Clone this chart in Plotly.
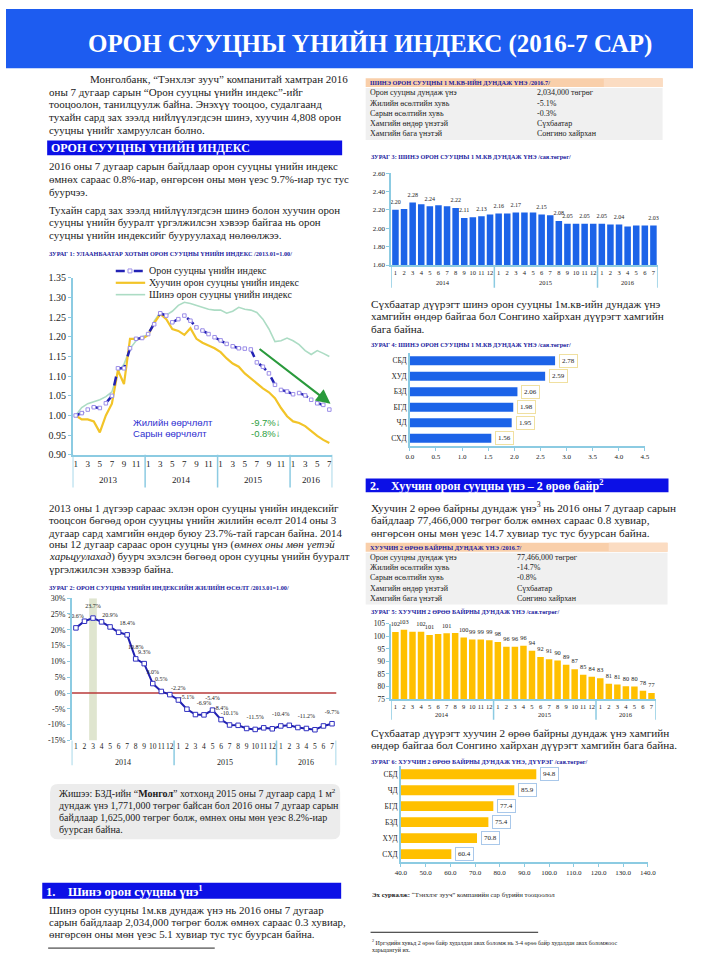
import plotly.graph_objects as go

W, H = 701, 961
def X(px): return px / W
def Y(py): return 1 - py / H

SERIF = "Liberation Serif"
SANS = "Liberation Sans"
TXT = "#1b1b1b"
NAVY = "#1a1a9e"
HBLUE = "#0c10e6"
AXC = "#8ccbe2"
BARBLUE = "#1c63e8"
BARYEL = "#ffc000"
LS = 10.9   # left column body size
RS = 11.2   # right column body size

# ---------------- DATA ----------------
years_all = [2013, 2014, 2015, 2016]
c1_periods = [f"{y}-{m:02d}" for y in years_all for m in range(1, 13)][:43]
c1_total = [1.000, 1.006, 1.015, 1.021, 1.019, 1.031, 1.050, 1.120, 1.120, 1.171, 1.195, 1.197,
            1.207, 1.232, 1.260, 1.254, 1.237, 1.245, 1.254, 1.241, 1.224, 1.216, 1.207, 1.199,
            1.191, 1.182, 1.176, 1.171, 1.170, 1.168, 1.135, 1.124, 1.107, 1.078, 1.065, 1.061,
            1.054, 1.057, 1.051, 1.040, 1.031, 1.027, 1.015]
c1_old = [1.000, 0.990, 0.990, 0.985, 0.957, 1.000, 1.030, 1.115, 1.080, 1.195, 1.195, 1.195,
          1.205, 1.235, 1.258, 1.245, 1.220, 1.215, 1.205, 1.222, 1.195, 1.185, 1.178, 1.171,
          1.161, 1.145, 1.132, 1.124, 1.107, 1.094, 1.082, 1.069, 1.059, 1.044, 1.019, 0.998,
          0.985, 0.981, 0.973, 0.960, 0.948, 0.938, 0.930]
c1_new = [1.000, 1.020, 1.030, 1.035, 1.040, 1.048, 1.060, 1.110, 1.130, 1.170, 1.190, 1.200,
          1.205, 1.240, 1.262, 1.255, 1.265, 1.280, 1.288, 1.285, 1.280, 1.275, 1.270, 1.268,
          1.268, 1.260, 1.265, 1.275, 1.270, 1.268, 1.262, 1.245, 1.220, 1.188, 1.190, 1.197,
          1.190, 1.180, 1.165, 1.155, 1.165, 1.158, 1.150]
c1_names = ["Орон сууцны үнийн индекс", "Хуучин орон сууцны үнийн индекс", "Шинэ орон сууцны үнийн индекс"]

c2_periods = c1_periods[12:]
c2_growth = [20.6, 22.7, 23.7, 22.5, 20.9, 19.2, 18.4, 10.8, 9.3, 3.0, 0.5, -0.5,
             -2.2, -5.1, -6.8, -6.9, -5.4, -8.4, -10.1, -10.2, -11.2, -11.5, -11.0, -11.3,
             -10.4, -10.2, -10.9, -11.2, -11.6, -10.4, -9.7]
c2_labels = ["20.6%", "", "23.7%", "", "20.9%", "", "18.4%", "10.8%", "9.3%", "3.0%", "0.5%", "",
             "-2.2%", "-5.1%", "", "-6.9%", "-5.4%", "-8.4%", "-10.1%", "", "", "-11.5%", "", "",
             "-10.4%", "", "", "-11.2%", "", "", "-9.7%"]

c3_periods = c1_periods[12:]
c3_new_price = [2.20, 2.21, 2.28, 2.26, 2.24, 2.25, 2.24, 2.22, 2.11, 2.12, 2.13, 2.15,
                2.16, 2.16, 2.17, 2.17, 2.17, 2.15, 2.14, 2.08, 2.05, 2.05, 2.05, 2.05,
                2.05, 2.04, 2.04, 2.02, 2.03, 2.03, 2.03]
c3_labels = ["2.20", "", "2.28", "", "2.24", "", "", "2.22", "2.11", "", "2.13", "",
             "2.16", "", "2.17", "", "", "2.15", "", "2.08", "2.05", "", "2.05", "",
             "2.05", "", "2.04", "", "", "", "2.03"]

c4_districts = ["СБД", "ХУД", "БЗД", "БГД", "ЧД", "СХД"]
c4_values = [2.78, 2.59, 2.06, 1.98, 1.95, 1.56]

c5_periods = c1_periods[12:]
c5_old_price = [101.7, 102.6, 101.8, 101.8, 100.5, 100.9, 101.2, 101.3, 99.5, 98.8, 98.8, 98.5,
                97.8, 95.9, 95.9, 96.3, 94.3, 91.8, 90.9, 90.4, 88.7, 86.9, 84.7, 83.9,
                83.3, 81.1, 80.8, 80.1, 80.0, 78.3, 77.4]
c5_labels = ["102", "103", "", "102", "101", "", "101", "", "100", "99", "99", "99",
             "98", "96", "96", "96", "94", "92", "91", "90", "89", "87", "85", "84",
             "83", "81", "81", "80", "80", "78", "77"]

c6_districts = ["СБД", "ЧД", "БГД", "БЗД", "ХУД", "СХД"]
c6_values = [94.8, 85.9, 77.4, 75.4, 70.8, 60.4]

t1_rows = [("Орон сууцны дундаж үнэ", "2,034,000 төгрөг"), ("Жилийн өсөлтийн хувь", "-5.1%"),
           ("Сарын өсөлтийн хувь", "-0.3%"), ("Хамгийн өндөр үнэтэй", "Сүхбаатар"),
           ("Хамгийн бага үнэтэй", "Сонгино хайрхан")]
t2_rows = [("Орон сууцны дундаж үнэ", "77,466,000 төгрөг"), ("Жилийн өсөлтийн хувь", "-14.7%"),
           ("Сарын өсөлтийн хувь", "-0.8%"), ("Хамгийн өндөр үнэтэй", "Сүхбаатар"),
           ("Хамгийн бага үнэтэй", "Сонгино хайрхан")]

# ---------------- HELPERS ----------------
ann, shapes = [], []

def text(x, y, s, size=12, color=TXT, anchor="left", family=SERIF, bold=False):
    if bold:
        s = f"<b>{s}</b>"
    ann.append(dict(x=X(x), y=Y(y), xref="paper", yref="paper", text=s, showarrow=False,
                    xanchor=anchor, yanchor="middle", borderpad=0,
                    font=dict(size=size, color=color, family=family)))

def para(x, y0, dy, lines, size=12, **kw):
    for i, l in enumerate(lines):
        text(x, y0 + i * dy, l, size, **kw)

def rect(x0, y0, x1, y1, fill, layer="below"):
    shapes.append(dict(type="rect", xref="paper", yref="paper", x0=X(x0), x1=X(x1),
                       y0=Y(y1), y1=Y(y0), fillcolor=fill, line=dict(width=0), layer=layer))

def pline(x0, y0, x1, y1, color, width=1):
    shapes.append(dict(type="line", xref="paper", yref="paper", x0=X(x0), x1=X(x1),
                       y0=Y(y0), y1=Y(y1), line=dict(color=color, width=width)))

def vsep(xref, xs, y0, y1, color=AXC, width=1.5):
    for xv in xs:
        shapes.append(dict(type="line", xref=xref, yref="paper", x0=xv, x1=xv,
                           y0=Y(y0), y1=Y(y1), line=dict(color=color, width=width)))

def yearlbl(xref, items, y, size):
    for xv, s in items:
        ann.append(dict(x=xv, y=Y(y), xref=xref, yref="paper", text=s, showarrow=False,
                        xanchor="center", yanchor="middle",
                        font=dict(size=size, color=TXT, family=SERIF)))

def header_bar(x0, y0, x1, y1, s, size=12.5, tx=None):
    rect(x0, y0, x1, y1, HBLUE)
    text(tx if tx else x0 + 3, (y0 + y1) / 2 + 0.5, s, size, color="white", bold=True)

def table(x0, x1, y0, title, rows, col2):
    rect(x0, y0, x1, y0 + 9, "#f9cfaa")
    rect(x1 - 60, y0, x1, y0 + 9, "#fbdcc2")
    text(x0 + 3, y0 + 4.5, title, 6.3, color=NAVY, bold=True)
    rect(x0, y0 + 10, x1, y0 + 10 + 10.3 * len(rows) + 1, "#f0f0f0")
    for i, (a, b) in enumerate(rows):
        yy = y0 + 15 + 10.3 * i
        text(x0 + 3, yy, a, 8)
        text(col2, yy, b, 8)

def labels_trace(xs, ys, labels, xaxis, yaxis, size, gap):
    pts = [(xv, yv, l) for xv, yv, l in zip(xs, ys, labels) if l]
    return go.Scatter(x=[p[0] for p in pts], y=[p[1] for p in pts], text=[p[2] for p in pts],
                      mode="markers+text", textposition="top center", cliponaxis=False,
                      hoverinfo="skip", marker=dict(size=gap, color="rgba(0,0,0,0)"),
                      textfont=dict(size=size, color="#222", family=SERIF),
                      xaxis=xaxis, yaxis=yaxis, showlegend=False)

# ---------------- PAGE ----------------
fig = go.Figure()

# banner
rect(0, 3, 701, 63, "#1d5cf0")
text(371, 38, "ОРОН СУУЦНЫ ҮНИЙН ИНДЕКС (2016-7 САР)", 25, color="white", anchor="center", bold=True)

# left column
para(85, 74, 12.8, ["Монголбанк, “Тэнхлэг зууч” компанитай хамтран 2016"], 11)
para(43, 86.8, 12.8, ["оны 7 дугаар сарын “Орон сууцны үнийн индекс”-ийг",
                      "тооцоолон, танилцуулж байна. Энэхүү тооцоо, судалгаанд",
                      "тухайн сард зах зээлд нийлүүлэгдсэн шинэ, хуучин 4,808 орон",
                      "сууцны үнийг хамруулсан болно."], 11)
header_bar(42, 136, 343, 151, "ОРОН СУУЦНЫ ҮНИЙН ИНДЕКС", 12)
para(43, 162, 13, ["2016 оны 7 дугаар сарын байдлаар орон сууцны үнийн индекс",
                   "өмнөх сараас 0.8%-иар, өнгөрсөн оны мөн үеэс 9.7%-иар тус тус",
                   "буурчээ."], LS)
para(43, 206, 13, ["Тухайн сард зах зээлд нийлүүлэгдсэн шинэ болон хуучин орон",
                   "сууцны үнийн бууралт үргэлжилсэн хэвээр байгаа нь орон",
                   "сууцны үнийн индексийг бууруулахад нөлөөлжээ."], LS)
text(43, 250, "ЗУРАГ 1: УЛААНБААТАР ХОТЫН ОРОН СУУЦНЫ ҮНИЙН ИНДЕКС /2013.01=1.00/", 6.2, color=NAVY, bold=True)

para(43, 508, 12.3, ["2013 оны 1 дүгээр сараас эхлэн орон сууцны үнийн индексийг",
                     "тооцсон бөгөөд орон сууцны үнийн жилийн өсөлт 2014 оны 3",
                     "дугаар сард хамгийн өндөр буюу 23.7%-тай гарсан байна. 2014",
                     "оны 12 дугаар сараас орон сууцны үнэ (<i>өмнөх оны мөн үетэй</i>",
                     "<i>харьцуулахад</i>) буурч эхэлсэн бөгөөд орон сууцны үнийн бууралт",
                     "үргэлжилсэн хэвээр байна."], LS)
text(43, 588, "ЗУРАГ 2: ОРОН СУУЦНЫ ҮНИЙН ИНДЕКСИЙН ЖИЛИЙН ӨСӨЛТ /2013.01=1.00/", 6.2, color=NAVY, bold=True)

# grey example box (rounded)
bx0, by0, bx1, by1, r = 45, 787, 341, 843, 8
path = (f"M {bx0+r},{by0} L {bx1-r},{by0} Q {bx1},{by0} {bx1},{by0+r} L {bx1},{by1-r} "
        f"Q {bx1},{by1} {bx1-r},{by1} L {bx0+r},{by1} Q {bx0},{by1} {bx0},{by1-r} "
        f"L {bx0},{by0+r} Q {bx0},{by0} {bx0+r},{by0} Z")
shapes.append(dict(type="path", xref="paper", yref="paper", layer="below",
                   path=" ".join(
                       (f"{X(float(t.split(',')[0]))},{Y(float(t.split(',')[1]))}" if "," in t else t)
                       for t in path.split()),
                   fillcolor="#ececec", line=dict(width=0)))
para(53, 796, 12.5, ["Жишээ: БЗД-ийн “<b>Монгол</b>” хотхонд 2015 оны 7 дугаар сард 1 м<sup>2</sup>",
                     "дундаж үнэ 1,771,000 төгрөг байсан бол 2016 оны 7 дугаар сарын",
                     "байдлаар 1,625,000 төгрөг болж, өмнөх оны мөн үеэс 8.2%-иар",
                     "буурсан байна."], 10)

header_bar(37, 887, 342, 903, "1.    Шинэ орон сууцны үнэ<sup>1</sup>", 12.5, tx=40)
para(43, 914, 12.5, ["Шинэ орон сууцны 1м.кв дундаж үнэ нь 2016 оны 7 дугаар",
                     "сарын байдлаар 2,034,000 төгрөг болж өмнөх сараас 0.3 хувиар,",
                     "өнгөрсөн оны мөн үеэс 5.1 хувиар тус тус буурсан байна."], LS)
pline(43, 953, 213, 953, "#222", 1)

# right column
table(367, 670, 73, "ШИНЭ ОРОН СУУЦНЫ 1 М.КВ-ИЙН ДУНДАЖ ҮНЭ /2016.7/", t1_rows, 541)
text(371, 152, "ЗУРАГ 3: ШИНЭ ОРОН СУУЦНЫ 1 М.КВ ДУНДАЖ ҮНЭ /сая.төгрөг/", 6.2, color=NAVY, bold=True)
para(371, 301, 12.8, ["Сүхбаатар дүүрэгт шинэ орон сууцны 1м.кв-ийн дундаж үнэ",
                      "хамгийн өндөр байгаа бол Сонгино хайрхан дүүрэгт хамгийн",
                      "бага байна."], RS)
text(371, 342, "ЗУРАГ 4: ШИНЭ ОРОН СУУЦНЫ 1 М.КВ ДУНДАЖ ҮНЭ /сая.төгрөг/", 6.2, color=NAVY, bold=True)

header_bar(367, 478, 676, 492, "2.    Хуучин орон сууцны үнэ – 2 өрөө байр<sup>2</sup>", 12, tx=370)
para(371, 507, 12.8, ["Хуучин 2 өрөө байрны дундаж үнэ<sup>3</sup> нь 2016 оны 7 дугаар сарын",
                      "байдлаар 77,466,000 төгрөг болж өмнөх сараас 0.8 хувиар,",
                      "өнгөрсөн оны мөн үеэс 14.7 хувиар тус тус буурсан байна."], RS)
table(367, 675, 543, "ХУУЧИН 2 ӨРӨӨ БАЙРНЫ ДУНДАЖ ҮНЭ /2016.7/", t2_rows, 520)
text(371, 613, "ЗУРАГ 5: ХУУЧИН 2 ӨРӨӨ БАЙРНЫ ДУНДАЖ ҮНЭ /сая.төгрөг/", 6.2, color=NAVY, bold=True)
para(371, 735, 13, ["Сүхбаатар дүүрэгт хуучин 2 өрөө байрны дундаж үнэ хамгийн",
                    "өндөр байгаа бол Сонгино хайрхан дүүрэгт хамгийн бага байна."], RS)
text(371, 764, "ЗУРАГ 6: ХУУЧИН 2 ӨРӨӨ БАЙРНЫ ДУНДАЖ ҮНЭ, ДҮҮРЭГ /сая.төгрөг/", 6.2, color=NAVY, bold=True)
text(372, 899, "<b>Эх сурвалж:</b> “Тэнхлэг зууч” компанийн сар бүрийн тооцоолол", 6.8)
pline(372, 937, 543, 937, "#222", 1)
para(372, 947, 8, ["<sup>2</sup> Иргэдийн хувьд 2 өрөө байр худалдан авах боломж нь 3-4 өрөө байр худалдан авах боломжоос",
                   "харьцангуй их."], 6)

# ---------------- CHART 1 ----------------
fig.add_trace(go.Scatter(x=c1_periods, y=c1_new, mode="lines", name=c1_names[2],
                         line=dict(color="#acdcc4", width=1.6), xaxis="x", yaxis="y"))
fig.add_trace(go.Scatter(x=c1_periods, y=c1_old, mode="lines", name=c1_names[1],
                         line=dict(color="#f2c428", width=2.2), xaxis="x", yaxis="y"))
fig.add_trace(go.Scatter(x=c1_periods, y=c1_total, mode="lines+markers", name=c1_names[0],
                         line=dict(color="#2222b4", width=2.5, dash="dash"),
                         marker=dict(symbol="square", size=3.5, color="white",
                                     line=dict(color="#9c8ee8", width=1)),
                         xaxis="x", yaxis="y"))
# manual legend
for i, (nm, col, w, dash) in enumerate([(c1_names[0], "#2222b4", 2.5, "dash"),
                                        (c1_names[1], "#f2c428", 2.2, "solid"),
                                        (c1_names[2], "#acdcc4", 1.6, "solid")]):
    yy = 268 + 12 * i
    shapes.append(dict(type="line", xref="paper", yref="paper", x0=X(112), x1=X(142), y0=Y(yy), y1=Y(yy),
                       line=dict(color=col, width=w, dash=dash)))
    text(145, yy, nm, 10)
shapes.append(dict(type="rect", xref="paper", yref="paper", x0=X(124.5), x1=X(128.5), y0=Y(270), y1=Y(266),
                   fillcolor="white", line=dict(color="#9c8ee8", width=1)))

vsep("x", [-0.5, 11.5, 23.5, 35.5, 42.5], 454, 487)
yearlbl("x", [(5.5, "2013"), (17.5, "2014"), (29.5, "2015"), (39, "2016")], 479, 9)
text(129, 421, "Жилийн өөрчлөлт", 9.5, color="#2f2fd0", family=SANS)
text(129, 432, "Сарын өөрчлөлт", 9.5, color="#2f2fd0", family=SANS)
text(249, 421, "-9.7%↓", 9.5, color="#2e9e3e", family=SANS)
text(249, 432, "-0.8%↓", 9.5, color="#2e9e3e", family=SANS)
ann.append(dict(x=42.2, y=1.030, xref="x", yref="y", ax=30.2, ay=1.172, axref="x", ayref="y",
                text="", showarrow=True, arrowhead=2, arrowsize=1.3, arrowwidth=2.2, arrowcolor="#2a9a3c"))

# ---------------- CHART 2 ----------------
shapes.append(dict(type="rect", xref="x2", yref="y2", x0=1.55, x1=2.45, y0=-15, y1=30,
                   fillcolor="#dfe5cf", line=dict(width=0), layer="below"))
shapes.append(dict(type="line", xref="x2", yref="y2", x0=-0.5, x1=31.0, y0=0, y1=0,
                   line=dict(color="#b83a3a", width=1.5), layer="below"))
fig.add_trace(go.Scatter(x=c2_periods, y=c2_growth, mode="lines+markers",
                         line=dict(color="#2020b0", width=2),
                         marker=dict(symbol="square", size=4.5, color="white", line=dict(color="#3030c0", width=1)),
                         xaxis="x2", yaxis="y2", showlegend=False, cliponaxis=False))
fig.add_trace(labels_trace(c2_periods, c2_growth, c2_labels, "x2", "y2", 6, 12))
vsep("x2", [-0.5, 11.5, 23.5, 30.5], 743, 768)
yearlbl("x2", [(5.5, "2014"), (17.5, "2015"), (27, "2016")], 765, 8)

# ---------------- CHART 3 ----------------
fig.add_trace(go.Bar(x=c3_periods, y=c3_new_price, marker=dict(color=BARBLUE, line=dict(width=0)),
                     width=0.76, xaxis="x3", yaxis="y3", showlegend=False))
fig.add_trace(labels_trace(c3_periods, c3_new_price, c3_labels, "x3", "y3", 6, 5))
vsep("x3", [-0.5, 11.5, 23.5, 30.5], 262, 285)
yearlbl("x3", [(5.5, "2014"), (17.5, "2015"), (27, "2016")], 280, 6.5)

# ---------------- CHART 4 ----------------
fig.add_trace(go.Bar(y=c4_districts, x=c4_values, orientation="h", width=0.58,
                     marker=dict(color=BARBLUE, line=dict(width=0)),
                     xaxis="x4", yaxis="y4", showlegend=False))
for i, v in enumerate(c4_values):
    ann.append(dict(x=v, y=i, xref="x4", yref="y4", text=f"{v:.2f}", showarrow=False, xanchor="left",
                    xshift=4, bgcolor="white", bordercolor="#f0e0a0", borderwidth=1, borderpad=2,
                    font=dict(size=7, color=TXT, family=SERIF)))

# ---------------- CHART 5 ----------------
fig.add_trace(go.Bar(x=c5_periods, y=c5_old_price, marker=dict(color=BARYEL, line=dict(width=0)),
                     width=0.76, xaxis="x5", yaxis="y5", showlegend=False))
fig.add_trace(labels_trace(c5_periods, c5_old_price, c5_labels, "x5", "y5", 6.3, 5))
vsep("x5", [-0.5, 11.5, 23.5, 30.5], 701, 722)
yearlbl("x5", [(5.5, "2014"), (17.5, "2015"), (27, "2016")], 717, 6.5)

# ---------------- CHART 6 ----------------
fig.add_trace(go.Bar(y=c6_districts, x=c6_values, orientation="h", width=0.62,
                     marker=dict(color=BARYEL, line=dict(width=0)),
                     xaxis="x6", yaxis="y6", showlegend=False))
for i, v in enumerate(c6_values):
    ann.append(dict(x=v, y=i, xref="x6", yref="y6", text=f"{v:.1f}", showarrow=False, xanchor="left",
                    xshift=4, bgcolor="white", bordercolor="#a9c8ea", borderwidth=1, borderpad=2,
                    font=dict(size=7, color=TXT, family=SERIF)))

# ---------------- AXES ----------------
def cat_x(d0, d1, anchor, cats, tickvals, ticktext, size, line=True):
    return dict(domain=[X(d0), X(d1)], anchor=anchor, type="category", categoryorder="array",
                categoryarray=cats, range=[-0.5, len(cats) - 0.5], tickmode="array",
                tickvals=tickvals, ticktext=ticktext, ticks="", showgrid=False, zeroline=False,
                tickangle=0, tickfont=dict(size=size, family=SERIF, color=TXT), showline=line,
                linecolor=AXC, linewidth=1.5, fixedrange=True)

def num_y(top, bot, anchor, rng, dtick, fmt, size, **kw):
    d = dict(domain=[Y(bot), Y(top)], anchor=anchor, range=rng, dtick=dtick, tickformat=fmt,
             showline=True, linecolor=AXC, linewidth=1.5, ticks="outside", ticklen=3,
             tickcolor=AXC, showgrid=False, zeroline=False,
             tickfont=dict(size=size, family=SERIF, color=TXT), fixedrange=True)
    d.update(kw)
    return d

m31 = [str(int(p[-2:])) for p in c2_periods]
c1_tv = [p for p in c1_periods if int(p[-2:]) % 2 == 1]
c1_tt = [str(int(p[-2:])) for p in c1_tv]

c2_ticks = list(range(-15, 31, 5))

fig.update_layout(
    width=W, height=H, margin=dict(l=0, r=0, t=0, b=0),
    paper_bgcolor="white", plot_bgcolor="rgba(0,0,0,0)",
    font=dict(family=SERIF, color=TXT), showlegend=False,
    xaxis=cat_x(68, 333, "y", c1_periods, c1_tv, c1_tt, 9),
    yaxis=num_y(275, 454, "x", [0.90, 1.35], 0.05, ".2f", 10),
    xaxis2=cat_x(67, 337, "y2", c2_periods, c2_periods, m31, 7.5, line=False),
    yaxis2=num_y(599, 743, "x2", [-15, 30], 5, "", 8, tickmode="array", tickvals=c2_ticks,
                 ticktext=[f"{v}%" for v in c2_ticks]),
    xaxis3=cat_x(393, 665, "y3", c3_periods, c3_periods, m31, 6.5),
    yaxis3=num_y(169, 262, "x3", [1.6, 2.6], 0.2, ".2f", 7),
    xaxis4=dict(domain=[X(412), X(652)], anchor="y4", range=[0, 4.5], dtick=0.5, tickformat=".1f",
                showline=True, linecolor=AXC, linewidth=1.5, ticks="outside", ticklen=3, tickcolor=AXC,
                showgrid=False, zeroline=False, tickfont=dict(size=7, family=SERIF, color=TXT), fixedrange=True),
    yaxis4=dict(domain=[Y(445), Y(351)], anchor="x4", type="category", autorange="reversed",
                showline=True, linecolor=AXC, linewidth=1.5, ticks="", showgrid=False,
                tickfont=dict(size=7.5, family=SERIF, color=TXT), fixedrange=True),
    xaxis5=cat_x(393, 663, "y5", c5_periods, c5_periods, m31, 6.5),
    yaxis5=num_y(625, 701, "x5", [75, 105], 5, "d", 7.5),
    xaxis6=dict(domain=[X(403), X(655)], anchor="y6", range=[40, 140], dtick=10, tickformat=".1f",
                showline=True, linecolor=AXC, linewidth=1.5, ticks="outside", ticklen=3, tickcolor=AXC,
                showgrid=False, zeroline=False, tickfont=dict(size=7, family=SERIF, color=TXT), fixedrange=True),
    yaxis6=dict(domain=[Y(866), Y(769)], anchor="x6", type="category", autorange="reversed",
                showline=True, linecolor=AXC, linewidth=1.5, ticks="", showgrid=False,
                tickfont=dict(size=7.5, family=SERIF, color=TXT), fixedrange=True),
    annotations=ann, shapes=shapes,
)

fig.write_html("out.html", config={"displayModeBar": False},
               post_script="document.body.style.margin='0px';document.body.style.overflow='hidden';")
